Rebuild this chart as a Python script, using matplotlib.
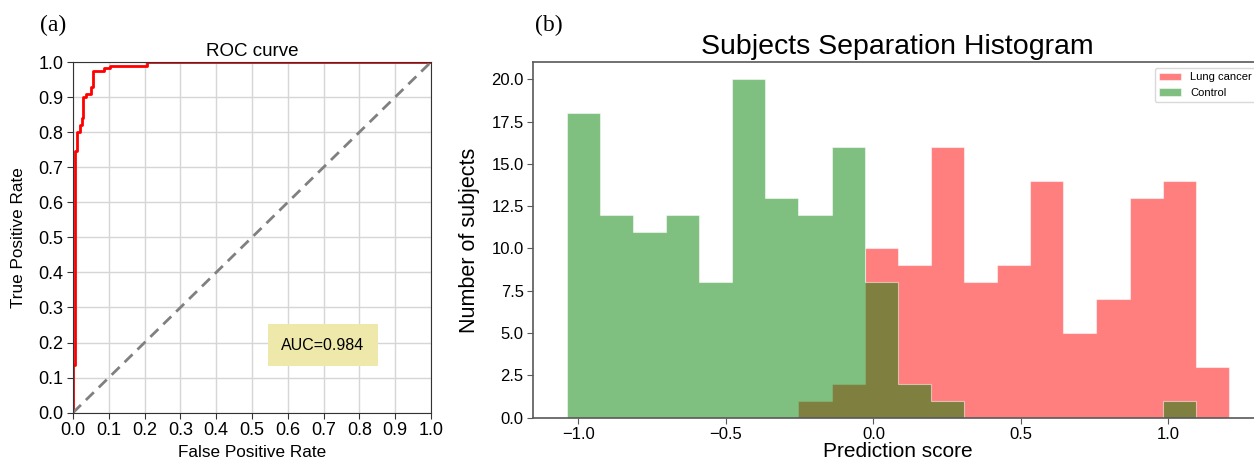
import matplotlib
matplotlib.use("Agg")
import matplotlib.pyplot as plt
import numpy as np

plt.rcParams['font.family'] = ['Liberation Sans', 'DejaVu Sans']

# ROC curve corner points
fpr = [0.0, 0.0, 0.005, 0.005, 0.011, 0.011, 0.019, 0.019, 0.024, 0.024,
       0.027, 0.027, 0.035, 0.035, 0.050, 0.050, 0.057, 0.057, 0.087, 0.087,
       0.102, 0.102, 0.206, 0.206, 1.0]
tpr = [0.0, 0.135, 0.135, 0.745, 0.745, 0.800, 0.800, 0.820, 0.820, 0.840,
       0.840, 0.900, 0.900, 0.910, 0.910, 0.928, 0.928, 0.973, 0.973, 0.982,
       0.982, 0.990, 0.990, 1.0, 1.0]
auc_label = "AUC=0.984"

# histogram: shared bin edges and counts per bin
bin_edges = np.linspace(-1.040, 1.205, 21)
lung_counts = [0, 0, 0, 0, 0, 0, 0, 1, 2, 10, 9, 16, 8, 9, 14, 5, 7, 13, 14, 3]
control_counts = [18, 12, 11, 12, 8, 20, 13, 12, 16, 8, 2, 1, 0, 0, 0, 0, 0, 0, 1, 0]
bin_centers = (bin_edges[:-1] + bin_edges[1:]) / 2

fig = plt.figure(figsize=(12.54, 4.61), dpi=100)

# ---- (a) ROC curve
ax1 = fig.add_axes([0.0582, 0.1048, 0.2855, 0.7607])
ax1.plot(fpr, tpr, color='red', lw=2)
ax1.plot([0, 1], [0, 1], color='0.5', lw=2, ls=(0, (4, 2.5)))
ax1.set_xlim(0, 1)
ax1.set_ylim(0, 1)
ax1.set_xticks(np.arange(0, 1.01, 0.1))
ax1.set_yticks(np.arange(0, 1.01, 0.1))
ax1.grid(True, color='#d6d6d6', lw=1)
ax1.set_axisbelow(True)
ax1.tick_params(labelsize=13, length=4, color='0.2', pad=3)
for s in ax1.spines.values():
    s.set_color('0.2')
ax1.set_title("ROC curve", fontsize=13.5, pad=4)
ax1.set_xlabel("False Positive Rate", fontsize=12.3, labelpad=4)
ax1.set_ylabel("True Positive Rate", fontsize=12.3, labelpad=9)
ax1.text(0.698, 0.193, auc_label, fontsize=11.5, ha='center', va='center',
         bbox=dict(boxstyle='square,pad=0.85', fc='#eee8aa', ec='none'))

# ---- (b) histogram
ax2 = fig.add_axes([0.4254, 0.0939, 0.581, 0.771])
ax2.hist(bin_centers, bins=bin_edges, weights=lung_counts, histtype='stepfilled',
         color='red', alpha=0.5, ec='white', lw=0.8, label='Lung cancer')
ax2.hist(bin_centers, bins=bin_edges, weights=control_counts, histtype='stepfilled',
         color='green', alpha=0.5, ec='white', lw=0.8, label='Control')
ax2.set_xticks([-1.0, -0.5, 0.0, 0.5, 1.0])
ax2.set_yticks(np.arange(0, 20.1, 2.5))
ax2.tick_params(labelsize=12, length=4, color='0.35', pad=3)
for s in ax2.spines.values():
    s.set_color('0.35')
    s.set_linewidth(1.2)
ax2.set_title("Subjects Separation Histogram", fontsize=20.5, pad=6)
ax2.set_xlabel("Prediction score", fontsize=15, labelpad=0)
ax2.set_ylabel("Number of subjects", fontsize=15.5, labelpad=8)
ax2.legend(loc='upper right', fontsize=8, framealpha=1, edgecolor='0.85')

fig.text(40 / 1254, 1 - 25 / 461, "(a)", family=['Liberation Serif', 'DejaVu Serif'],
         fontsize=17, va='center', ha='left')
fig.text(535 / 1254, 1 - 25 / 461, "(b)", family=['Liberation Serif', 'DejaVu Serif'],
         fontsize=17, va='center', ha='left')

fig.savefig("out.png", dpi=100)
